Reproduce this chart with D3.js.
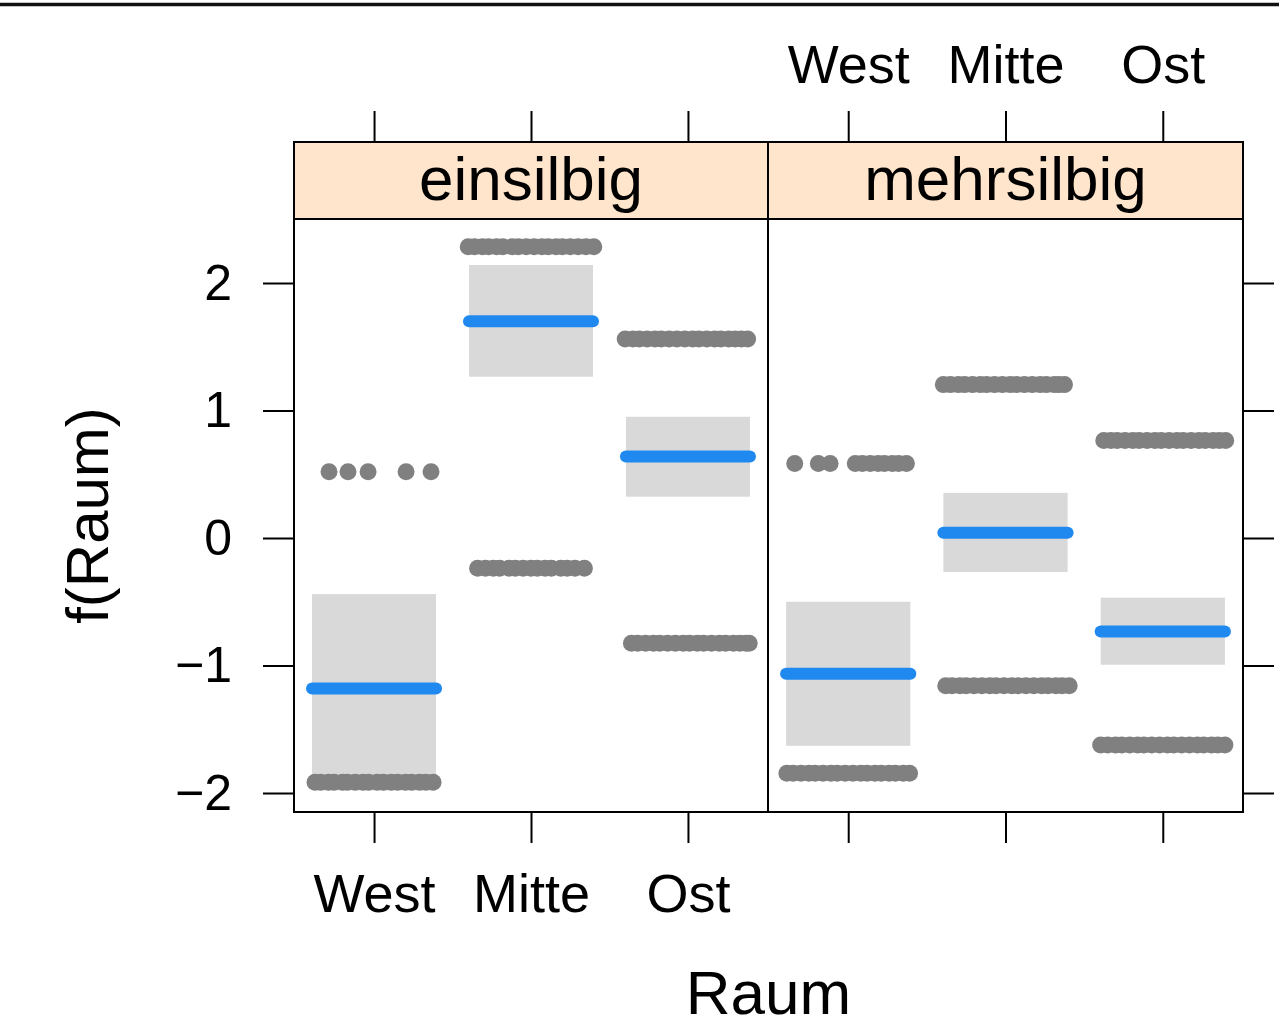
<!DOCTYPE html>
<html>
<head>
<meta charset="utf-8">
<script src="https://cdn.jsdelivr.net/npm/d3@7"></script>
<style>
  body { margin: 0; background: #fff; }
  svg text { font-family: "Liberation Sans", Arial, Helvetica, sans-serif; fill: #000; }
</style>
</head>
<body>
<div id="chart"></div>
<script>
// --- data ---
const panels = ["einsilbig", "mehrsilbig"];
const regions = ["West", "Mitte", "Ost"];
const yTicks = [-2, -1, 0, 1, 2];

// fitted effect and confidence band per region
const fitEin = [-1.18, 1.70, 0.64];
const lowerEin = [-1.98, 1.265, 0.324];
const upperEin = [-0.44, 2.141, 0.951];

const fitMehr = [-1.065, 0.042, -0.733];
const lowerMehr = [-1.63, -0.267, -0.994];
const upperMehr = [-0.50, 0.354, -0.468];

// partial residuals: level + horizontal jitter (in category steps)
const pointsEin = [
  {region: "West", y: 0.52, jitter: [-0.287, -0.166, -0.038, 0.204, 0.363]},
  {region: "West", y: -1.916, jitter: [-0.376, -0.34, -0.29, -0.255, -0.2, -0.17, -0.12, -0.07, -0.035, 0.02, 0.06, 0.11, 0.15, 0.2, 0.24, 0.29, 0.33, 0.376]},
  {region: "Mitte", y: 2.285, jitter: [-0.40, -0.36, -0.31, -0.27, -0.22, -0.18, -0.12, -0.08, -0.03, 0.02, 0.07, 0.11, 0.16, 0.2, 0.25, 0.3, 0.35, 0.40]},
  {region: "Mitte", y: -0.238, jitter: [-0.34, -0.29, -0.24, -0.2, -0.14, -0.1, -0.05, 0.0, 0.04, 0.09, 0.13, 0.19, 0.23, 0.28, 0.34]},
  {region: "Ost", y: 1.561, jitter: [-0.40, -0.35, -0.31, -0.26, -0.21, -0.17, -0.12, -0.07, -0.02, 0.03, 0.07, 0.12, 0.17, 0.21, 0.26, 0.3, 0.34, 0.38]},
  {region: "Ost", y: -0.826, jitter: [-0.36, -0.32, -0.27, -0.22, -0.18, -0.13, -0.08, -0.03, 0.01, 0.06, 0.1, 0.15, 0.2, 0.24, 0.29, 0.33, 0.37, 0.39]}
];

const pointsMehr = [
  {region: "West", y: 0.585, jitter: [-0.34, -0.19, -0.115, 0.045, 0.09, 0.14, 0.19, 0.23, 0.28, 0.32, 0.37]},
  {region: "West", y: -1.845, jitter: [-0.39, -0.35, -0.3, -0.25, -0.21, -0.16, -0.11, -0.07, -0.02, 0.03, 0.08, 0.12, 0.17, 0.21, 0.26, 0.3, 0.35, 0.39]},
  {region: "Mitte", y: 1.203, jitter: [-0.395, -0.35, -0.3, -0.26, -0.21, -0.16, -0.12, -0.07, -0.02, 0.03, 0.07, 0.12, 0.17, 0.22, 0.26, 0.31, 0.34, 0.375]},
  {region: "Mitte", y: -1.158, jitter: [-0.38, -0.34, -0.29, -0.25, -0.2, -0.15, -0.1, -0.06, -0.01, 0.04, 0.08, 0.13, 0.18, 0.23, 0.27, 0.32, 0.36, 0.405]},
  {region: "Ost", y: 0.765, jitter: [-0.375, -0.33, -0.29, -0.24, -0.19, -0.15, -0.1, -0.05, -0.01, 0.04, 0.09, 0.13, 0.18, 0.23, 0.27, 0.32, 0.36, 0.40]},
  {region: "Ost", y: -1.624, jitter: [-0.395, -0.35, -0.3, -0.26, -0.21, -0.16, -0.12, -0.07, -0.02, 0.03, 0.07, 0.12, 0.17, 0.22, 0.26, 0.31, 0.35, 0.395]}
];

const panelData = [
  {name: panels[0], fit: fitEin, lower: lowerEin, upper: upperEin, points: pointsEin},
  {name: panels[1], fit: fitMehr, lower: lowerMehr, upper: upperMehr, points: pointsMehr}
];

// --- layout ---
const W = 1279, H = 1028;
const frame = {left: 294, mid: 768, right: 1243, stripTop: 142, top: 219, bottom: 812};
const tickLen = 31;
const halfWidth = 0.395;   // band / line half width in category steps
const fontStack = "'Liberation Sans', Arial, Helvetica, sans-serif";

const svg = d3.select("#chart").append("svg")
    .attr("width", W).attr("height", H)
    .attr("viewBox", [0, 0, W, H]);

svg.append("rect").attr("width", W).attr("height", H).attr("fill", "#fff");

// Rand oben
svg.append("line")
    .attr("x1", 0).attr("x2", W).attr("y1", 4.5).attr("y2", 4.5)
    .attr("stroke", "#111").attr("stroke-width", 3.5);

const y = d3.scaleLinear().domain([-2.149, 2.502]).range([frame.bottom, frame.top]);

const panelX = [
    d3.scalePoint().domain(regions).range([frame.left, frame.mid]).padding(0.51),
    d3.scalePoint().domain(regions).range([frame.mid, frame.right]).padding(0.51)
];

panelData.forEach((p, i) => {
    const x = panelX[i];
    const step = x.step();
    const g = svg.append("g").attr("class", "panel");

    // confidence bands
    g.selectAll("rect.band")
        .data(regions)
        .join("rect")
        .attr("class", "band")
        .attr("x", d => x(d) - halfWidth * step)
        .attr("width", 2 * halfWidth * step)
        .attr("y", (d, k) => y(p.upper[k]))
        .attr("height", (d, k) => y(p.lower[k]) - y(p.upper[k]))
        .attr("fill", "#d9d9d9");

    // residual points
    const pts = p.points.flatMap(grp => grp.jitter.map(j => ({region: grp.region, y: grp.y, j})));
    g.selectAll("circle.pt")
        .data(pts)
        .join("circle")
        .attr("class", "pt")
        .attr("cx", d => x(d.region) + d.j * step)
        .attr("cy", d => y(d.y))
        .attr("r", 8.5)
        .attr("fill", "#808080");

    // fitted effect
    g.selectAll("line.fit")
        .data(regions)
        .join("line")
        .attr("class", "fit")
        .attr("x1", d => x(d) - halfWidth * step)
        .attr("x2", d => x(d) + halfWidth * step)
        .attr("y1", (d, k) => y(p.fit[k]))
        .attr("y2", (d, k) => y(p.fit[k]))
        .attr("stroke", "#1f89f0")
        .attr("stroke-width", 12)
        .attr("stroke-linecap", "round");

    const x0 = x.range()[0], x1 = x.range()[1];

    // strip
    g.append("rect")
        .attr("x", x0).attr("y", frame.stripTop)
        .attr("width", x1 - x0).attr("height", frame.top - frame.stripTop)
        .attr("fill", "#ffe5cc").attr("stroke", "#000").attr("stroke-width", 2);
    g.append("text")
        .attr("x", (x0 + x1) / 2).attr("y", 200)
        .attr("text-anchor", "middle")
        .attr("font-size", 62)
        .text(p.name);

    // panel frame
    g.append("rect")
        .attr("x", x0).attr("y", frame.top)
        .attr("width", x1 - x0).attr("height", frame.bottom - frame.top)
        .attr("fill", "none").attr("stroke", "#000").attr("stroke-width", 2);

    // x axes: left panel labels below, right panel labels on top
    const bottomAxis = svg.append("g")
        .attr("transform", `translate(0,${frame.bottom})`)
        .call(d3.axisBottom(x).tickSize(tickLen).tickPadding(31));
    const topAxis = svg.append("g")
        .attr("transform", `translate(0,${frame.stripTop})`)
        .call(d3.axisTop(x).tickSize(tickLen).tickPadding(28));
    [bottomAxis, topAxis].forEach(a => {
        a.select(".domain").remove();
        a.selectAll(".tick line").attr("stroke", "#000").attr("stroke-width", 2);
        a.selectAll(".tick text").attr("font-size", 54).attr("fill", "#000")
            .attr("font-family", fontStack);
    });
    if (i === 0) topAxis.selectAll(".tick text").remove();
    else bottomAxis.selectAll(".tick text").remove();
});

// y axes: labels left, ticks only on the right
const leftAxis = svg.append("g")
    .attr("transform", `translate(${frame.left},0)`)
    .call(d3.axisLeft(y).tickValues(yTicks).tickSize(tickLen).tickPadding(31).tickFormat(d3.format("d")));
const rightAxis = svg.append("g")
    .attr("transform", `translate(${frame.right},0)`)
    .call(d3.axisRight(y).tickValues(yTicks).tickSize(tickLen).tickFormat(""));
[leftAxis, rightAxis].forEach(a => {
    a.select(".domain").remove();
    a.selectAll(".tick line").attr("stroke", "#000").attr("stroke-width", 2);
});
leftAxis.selectAll(".tick text").attr("font-size", 50).attr("fill", "#000")
    .attr("font-family", fontStack);

// Achsentitel
svg.append("text")
    .attr("x", (frame.left + frame.right) / 2).attr("y", 1014)
    .attr("text-anchor", "middle")
    .attr("font-size", 62)
    .text("Raum");

svg.append("text")
    .attr("transform", `translate(108,${(frame.top + frame.bottom) / 2}) rotate(-90)`)
    .attr("text-anchor", "middle")
    .attr("font-size", 60)
    .text("f(Raum)");
</script>
</body>
</html>
